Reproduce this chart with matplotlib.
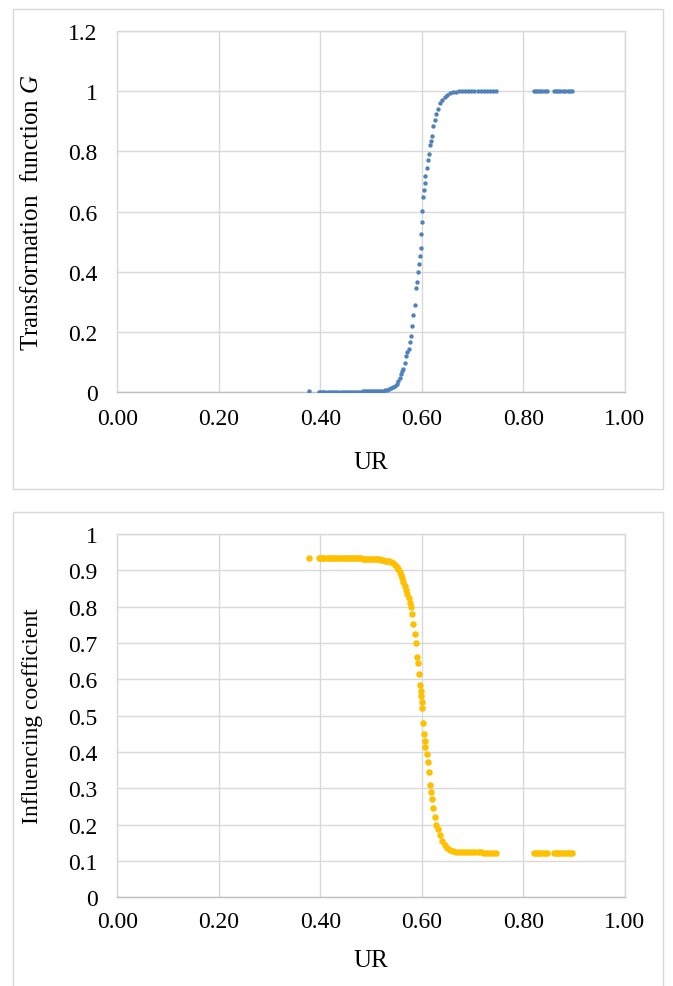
import matplotlib
matplotlib.use('Agg')
import matplotlib.pyplot as plt
from matplotlib.patches import Rectangle

plt.rcParams['font.family'] = ['Liberation Serif', 'DejaVu Serif']
plt.rcParams['mathtext.fontset'] = 'custom'
plt.rcParams['mathtext.rm'] = 'Liberation Serif'
plt.rcParams['mathtext.it'] = 'Liberation Serif:italic'

# UR values (shared by both panels)
ur = [0.377, 0.397, 0.400, 0.403, 0.406, 0.410, 0.415, 0.420, 0.424, 0.428,
      0.432, 0.436, 0.440, 0.444, 0.448, 0.452, 0.456, 0.460, 0.464, 0.468,
      0.472, 0.476, 0.480, 0.484, 0.488, 0.492, 0.496, 0.500, 0.504, 0.508,
      0.512, 0.516, 0.520, 0.524, 0.528, 0.532, 0.536, 0.540, 0.544, 0.548,
      0.551, 0.554, 0.557, 0.560, 0.562, 0.564, 0.567, 0.570, 0.572, 0.574,
      0.577, 0.579, 0.581, 0.583, 0.586, 0.588, 0.591, 0.593, 0.595, 0.597,
      0.598, 0.599, 0.600, 0.601, 0.603, 0.605, 0.606, 0.607, 0.610, 0.612,
      0.614, 0.616, 0.618, 0.620, 0.623, 0.626, 0.629, 0.632, 0.636, 0.640,
      0.645, 0.650, 0.656, 0.662, 0.668, 0.674, 0.680, 0.686, 0.692, 0.698,
      0.704, 0.710, 0.716, 0.722, 0.728, 0.734, 0.740, 0.746,
      0.822, 0.826, 0.830, 0.834, 0.838, 0.842, 0.846,
      0.860, 0.864, 0.868, 0.872, 0.878, 0.883, 0.888, 0.892, 0.896]

# transformation function G
g_vals = [0.003, 0.002, 0.002, 0.002, 0.002, 0.002, 0.002, 0.002, 0.002, 0.002,
          0.002, 0.002, 0.002, 0.002, 0.002, 0.002, 0.002, 0.002, 0.002, 0.002,
          0.002, 0.002, 0.002, 0.003, 0.003, 0.003, 0.003, 0.003, 0.003, 0.003,
          0.003, 0.004, 0.004, 0.005, 0.006, 0.008, 0.010, 0.013, 0.017, 0.022,
          0.028, 0.036, 0.048, 0.060, 0.070, 0.079, 0.097, 0.120, 0.133, 0.145,
          0.166, 0.188, 0.221, 0.258, 0.290, 0.345, 0.365, 0.400, 0.425, 0.452,
          0.480, 0.525, 0.565, 0.603, 0.650, 0.672, 0.695, 0.720, 0.745, 0.770,
          0.790, 0.820, 0.836, 0.850, 0.885, 0.905, 0.925, 0.940, 0.960, 0.972,
          0.982, 0.989, 0.994, 0.997, 0.999, 1.000, 1.000, 1.000, 1.001, 1.001,
          1.001, 1.001, 1.001, 1.001, 1.001, 1.001, 1.001, 1.001,
          1.001, 1.001, 1.001, 1.001, 1.001, 1.001, 1.001,
          1.001, 1.001, 1.001, 1.001, 1.001, 1.001, 1.001, 1.001, 1.001]

# influencing coefficient
coef = [0.933, 0.933, 0.933, 0.933, 0.933, 0.933, 0.933, 0.933, 0.933, 0.933,
        0.933, 0.933, 0.933, 0.933, 0.933, 0.933, 0.933, 0.933, 0.933, 0.933,
        0.933, 0.933, 0.933, 0.932, 0.932, 0.932, 0.932, 0.932, 0.931, 0.931,
        0.930, 0.930, 0.929, 0.928, 0.927, 0.926, 0.925, 0.923, 0.920, 0.915,
        0.910, 0.905, 0.895, 0.888, 0.878, 0.868, 0.857, 0.845, 0.835, 0.825,
        0.810, 0.798, 0.780, 0.752, 0.725, 0.700, 0.662, 0.645, 0.615, 0.585,
        0.568, 0.553, 0.538, 0.520, 0.480, 0.450, 0.430, 0.415, 0.395, 0.372,
        0.345, 0.310, 0.290, 0.270, 0.245, 0.220, 0.200, 0.188, 0.172, 0.155,
        0.143, 0.135, 0.130, 0.127, 0.126, 0.125, 0.125, 0.125, 0.125, 0.124,
        0.124, 0.124, 0.124, 0.123, 0.123, 0.123, 0.123, 0.123,
        0.123, 0.123, 0.123, 0.123, 0.123, 0.123, 0.123,
        0.123, 0.123, 0.123, 0.123, 0.123, 0.123, 0.123, 0.123, 0.123]

x_ticks = [0.0, 0.2, 0.4, 0.6, 0.8, 1.0]
x_labels = ['0.00', '0.20', '0.40', '0.60', '0.80', '1.00']
g_ticks = [0, 0.2, 0.4, 0.6, 0.8, 1.0, 1.2]
g_labels = ['0', '0.2', '0.4', '0.6', '0.8', '1', '1.2']
c_ticks = [0, 0.1, 0.2, 0.3, 0.4, 0.5, 0.6, 0.7, 0.8, 0.9, 1.0]
c_labels = ['0', '0.1', '0.2', '0.3', '0.4', '0.5', '0.6', '0.7', '0.8', '0.9', '1']

W, H = 673, 987
fig = plt.figure(figsize=(W / 100, H / 100), dpi=100)

# panel frames
for (x0, y0, x1, y1) in [(13, 10, 663, 490), (13, 513, 663, 995)]:
    fig.patches.append(Rectangle((x0 / W, 1 - y1 / H), (x1 - x0) / W, (y1 - y0) / H,
                                 transform=fig.transFigure, fill=False,
                                 edgecolor='#d9d9d9', linewidth=1.0))


def style(ax, yticks, ylabels, ymax, xpad):
    ax.set_xlim(0, 1)
    ax.set_ylim(0, ymax)
    ax.set_xticks(x_ticks)
    ax.set_xticklabels(x_labels)
    ax.set_yticks(yticks)
    ax.set_yticklabels(ylabels)
    ax.grid(True, color='#d9d9d9', linewidth=1.0)
    ax.set_axisbelow(True)
    for s in ax.spines.values():
        s.set_color('#d9d9d9')
        s.set_linewidth(1.0)
    ax.spines['bottom'].set_color('#bfbfbf')
    ax.tick_params(length=0, labelsize=17, colors='black')
    ax.tick_params(axis='x', pad=xpad)
    ax.tick_params(axis='y', pad=14)


ax1 = fig.add_axes([117.2 / W, 1 - 393.3 / H, 507.5 / W, 361.3 / H])
ax1.scatter(ur, g_vals, s=10, color='#4f81bd', linewidths=0, zorder=3)
style(ax1, g_ticks, g_labels, 1.2, 11)
ax1.set_xlabel('UR', fontsize=18, labelpad=16)
ax1.set_ylabel('Transformation  function $G$', fontsize=18, labelpad=18)

ax2 = fig.add_axes([117.2 / W, 1 - 898.3 / H, 507.5 / W, 363.3 / H])
ax2.scatter(ur, coef, s=22, color='#ffc000', linewidths=0, zorder=3)
style(ax2, c_ticks, c_labels, 1.0, 10)
ax2.set_xlabel('UR', fontsize=18, labelpad=12)
ax2.set_ylabel('Influencing coefficient', fontsize=17, labelpad=18)

fig.savefig('out.png', dpi=100)
